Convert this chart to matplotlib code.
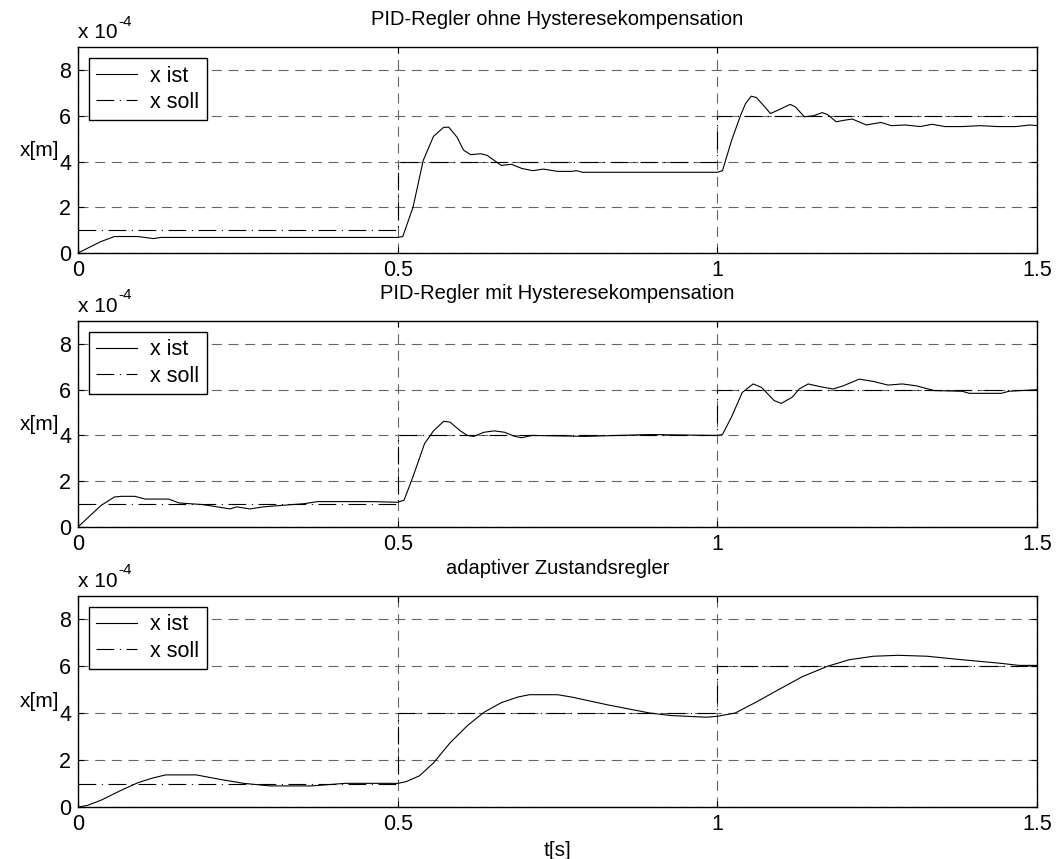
import matplotlib
matplotlib.use("Agg")
import matplotlib.pyplot as plt
import numpy as np

plt.rcParams['font.family'] = ['Liberation Sans', 'DejaVu Sans']

# values in units of 1e-4 m
titles = ['PID-Regler ohne Hysteresekompensation',
          'PID-Regler mit Hysteresekompensation',
          'adaptiver Zustandsregler']

# set point (x soll): step times and levels
t_soll = [0.0, 0.5, 0.5, 1.0, 1.0, 1.5]
x_soll = [1.0, 1.0, 4.0, 4.0, 6.0, 6.0]

# PID without hysteresis compensation
t_ist_1 = [0.0, 0.036, 0.057, 0.094, 0.118, 0.13, 0.5, 0.508, 0.524, 0.54, 0.556, 0.572,
           0.58, 0.593, 0.603, 0.614, 0.63, 0.64, 0.662, 0.678, 0.694, 0.711, 0.728,
           0.75, 0.772, 0.78, 0.789, 1.0, 1.008, 1.022, 1.036, 1.044, 1.053, 1.061,
           1.072, 1.083, 1.094, 1.114, 1.122, 1.136, 1.15, 1.164, 1.172, 1.186, 1.197,
           1.211, 1.233, 1.256, 1.272, 1.294, 1.317, 1.336, 1.356, 1.383, 1.411, 1.439,
           1.467, 1.489, 1.5]
x_ist_1 = [0.0, 0.5, 0.72, 0.72, 0.63, 0.68, 0.68, 0.72, 2.0, 4.05, 5.1, 5.5,
           5.5, 5.06, 4.5, 4.3, 4.34, 4.27, 3.83, 3.88, 3.7, 3.6, 3.67,
           3.57, 3.57, 3.6, 3.53, 3.53, 3.6, 4.9, 6.0, 6.53, 6.86, 6.8,
           6.46, 6.1, 6.24, 6.5, 6.39, 5.96, 6.0, 6.14, 6.06, 5.74, 5.8,
           5.86, 5.6, 5.71, 5.57, 5.6, 5.53, 5.63, 5.53, 5.53, 5.57, 5.53,
           5.53, 5.6, 5.57]

# PID with hysteresis compensation
t_ist_2 = [0.0, 0.036, 0.057, 0.068, 0.089, 0.105, 0.142, 0.158, 0.195, 0.238, 0.248,
           0.269, 0.29, 0.317, 0.354, 0.375, 0.46, 0.5, 0.51, 0.524, 0.542, 0.556,
           0.572, 0.582, 0.598, 0.609, 0.619, 0.635, 0.651, 0.667, 0.683, 0.694,
           0.71, 0.794, 0.894, 1.0, 1.008, 1.022, 1.039, 1.056, 1.069, 1.089, 1.1,
           1.117, 1.128, 1.142, 1.161, 1.181, 1.197, 1.222, 1.244, 1.267, 1.289,
           1.311, 1.339, 1.383, 1.394, 1.444, 1.456, 1.5]
x_ist_2 = [0.0, 0.94, 1.31, 1.34, 1.34, 1.22, 1.22, 1.05, 0.98, 0.79, 0.88,
           0.79, 0.88, 0.94, 1.02, 1.11, 1.11, 1.08, 1.17, 2.2, 3.64, 4.2,
           4.62, 4.58, 4.2, 4.0, 3.96, 4.14, 4.2, 4.14, 3.96, 3.9,
           4.0, 3.96, 4.04, 4.0, 4.04, 4.8, 5.88, 6.25, 6.1, 5.52, 5.4,
           5.67, 6.03, 6.25, 6.13, 6.03, 6.17, 6.46, 6.36, 6.2, 6.25,
           6.17, 5.96, 5.93, 5.84, 5.84, 5.93, 6.0]

# adaptive state controller
t_ist_3 = [0.0, 0.015, 0.036, 0.068, 0.094, 0.116, 0.137, 0.185, 0.222, 0.259, 0.301,
           0.365, 0.418, 0.5, 0.513, 0.534, 0.556, 0.582, 0.609, 0.635, 0.662,
           0.688, 0.706, 0.75, 0.772, 0.828, 0.894, 0.928, 0.983, 1.0, 1.028,
           1.061, 1.094, 1.133, 1.172, 1.206, 1.244, 1.283, 1.328, 1.383, 1.439,
           1.472, 1.5]
x_ist_3 = [0.0, 0.07, 0.29, 0.72, 1.04, 1.23, 1.37, 1.37, 1.18, 1.01, 0.9,
           0.9, 1.01, 1.01, 1.08, 1.33, 1.88, 2.74, 3.47, 4.04, 4.45,
           4.69, 4.79, 4.79, 4.69, 4.36, 4.01, 3.9, 3.83, 3.87, 4.01,
           4.48, 4.98, 5.56, 6.0, 6.28, 6.43, 6.47, 6.43, 6.28, 6.14,
           6.04, 6.04]

series = [(t_ist_1, x_ist_1), (t_ist_2, x_ist_2), (t_ist_3, x_ist_3)]

fig = plt.figure(figsize=(10.58, 8.59), dpi=100)
boxes = [(0.0737, 0.7055, 0.9065, 0.2395),
         (0.0737, 0.3865, 0.9065, 0.2398),
         (0.0737, 0.0605, 0.9065, 0.2457)]

for i, (box, (t_ist, x_ist)) in enumerate(zip(boxes, series)):
    ax = fig.add_axes(box)
    ax.plot(t_ist, x_ist, color='black', linewidth=0.8, label='x ist')
    ax.plot(t_soll, x_soll, color='black', linewidth=0.8,
            dashes=(16, 5, 1, 5), label='x soll')
    ax.set_xlim(0, 1.5)
    ax.set_ylim(0, 9)
    ax.set_xticks([0, 0.5, 1, 1.5])
    ax.set_xticklabels(['0', '0.5', '1', '1.5'])
    ax.set_yticks([0, 2, 4, 6, 8])
    ax.tick_params(direction='in', top=True, right=True, labelsize=15.5,
                   length=4, pad=5)
    ax.grid(True, color='#666666', linewidth=0.8, dashes=(9, 6))
    for s in ax.spines.values():
        s.set_linewidth(1.0)
    ax.set_title(titles[i], fontsize=14.5, pad=16)
    ax.set_ylabel('x[m]', rotation=0, fontsize=15, labelpad=14, va='center')
    ax.text(0.0, 1.025, 'x 10', transform=ax.transAxes, fontsize=15,
            ha='left', va='bottom')
    ax.text(0.042, 1.09, '-4', transform=ax.transAxes, fontsize=11,
            ha='left', va='bottom')
    leg = ax.legend(loc='upper left', fontsize=15.5, fancybox=False, framealpha=1,
                    edgecolor='black', handlelength=1.9, borderaxespad=0.5,
                    labelspacing=0.25, borderpad=0.35, handletextpad=0.6)
    leg.get_frame().set_linewidth(1.0)
    if i == 2:
        ax.set_xlabel('t[s]', fontsize=15, labelpad=4)

fig.savefig('out.png', dpi=100)
